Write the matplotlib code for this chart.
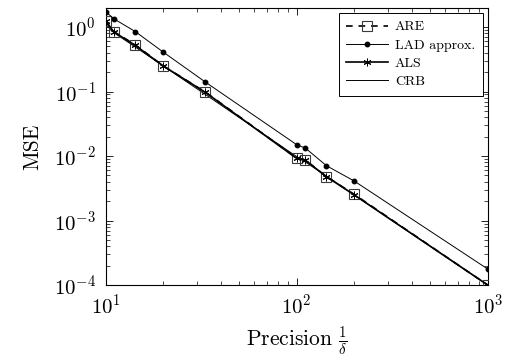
import matplotlib
matplotlib.use('Agg')
import matplotlib.pyplot as plt

# values
precision = [10, 11.1, 14.3, 20, 33.3, 100, 111, 143, 200, 1000]
mse_are = [1.25, 0.84, 0.53, 0.25, 0.098, 0.0093, 0.0087, 0.0048, 0.00255, 1.0e-4]
mse_lad = [1.73, 1.33, 0.85, 0.41, 0.14, 0.015, 0.0133, 0.0071, 0.0041, 1.77e-4]
mse_als = [1.22, 0.83, 0.52, 0.25, 0.097, 0.0092, 0.0086, 0.0048, 0.0025, 1.0e-4]
mse_crb = [1.1, 0.81, 0.49, 0.25, 0.09, 0.0098, 0.0081, 0.0049, 0.0025, 1.0e-4]

plt.rcParams['font.family'] = 'serif'
plt.rcParams['font.serif'] = ['cmr10']
plt.rcParams['mathtext.fontset'] = 'cm'
plt.rcParams['axes.formatter.use_mathtext'] = True

fig = plt.figure(figsize=(5.05, 3.6), dpi=100)
ax = fig.add_axes([0.209, 0.208, 0.757, 0.771])

ax.plot(precision, mse_are, linestyle=(0, (4, 3.5)), color='black', linewidth=1.2,
        marker='s', markersize=7, markerfacecolor='none',
        markeredgecolor='#3a3a3a', markeredgewidth=0.8, label='ARE', zorder=3)
ax.plot(precision, mse_lad, color='black', linewidth=0.7,
        marker='o', markersize=3.2, label='LAD approx.', zorder=3)
ax.plot(precision, mse_als, color='black', linewidth=1.2,
        marker=(6, 2, 0), markersize=5.5, markeredgewidth=0.7,
        label='ALS', zorder=4)
ax.plot(precision, mse_crb, color='black', linewidth=0.7, label='CRB', zorder=2)

ax.set_xscale('log')
ax.set_yscale('log')
ax.set_xlim(10, 1000)
ax.set_ylim(1e-4, 2.0)

ax.tick_params(which='both', direction='in', top=True, right=True, labelsize=15)
ax.tick_params(axis='y', pad=7)
ax.tick_params(axis='x', pad=6)
ax.tick_params(which='major', length=5, width=0.6)
ax.tick_params(which='minor', length=3, width=0.5)
for s in ax.spines.values():
    s.set_linewidth(0.8)

ax.set_xlabel(r'Precision $\frac{1}{\delta}$', fontsize=15.5, labelpad=5)
ax.set_ylabel('MSE', fontsize=15.5, labelpad=8)

leg = ax.legend(loc='upper right', fontsize=10, frameon=True, fancybox=False,
                edgecolor='black', framealpha=1, handlelength=3.0,
                handletextpad=0.5, borderpad=0.55, labelspacing=0.4,
                borderaxespad=0, bbox_to_anchor=(0.987, 0.98))
leg.get_frame().set_linewidth(0.7)

plt.savefig('out.png', dpi=100)
